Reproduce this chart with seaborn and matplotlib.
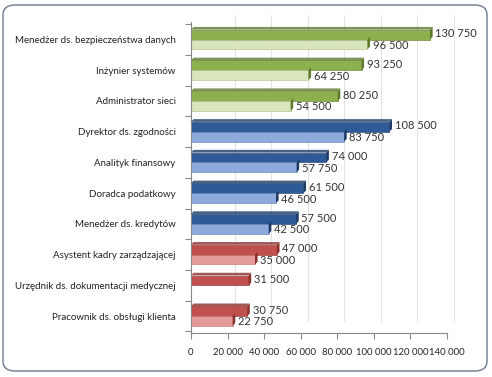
import numpy as np
import pandas as pd
import matplotlib
matplotlib.use("Agg")
import matplotlib.pyplot as plt
import matplotlib.transforms as mtransforms
from matplotlib.patches import FancyBboxPatch, Polygon
import seaborn as sns

categories = [
    "Menedżer ds. bezpieczeństwa danych",
    "Inżynier systemów",
    "Administrator sieci",
    "Dyrektor ds. zgodności",
    "Analityk finansowy",
    "Doradca podatkowy",
    "Menedżer ds. kredytów",
    "Asystent kadry zarządzającej",
    "Urzędnik ds. dokumentacji medycznej",
    "Pracownik ds. obsługi klienta",
]
high_values = [130750, 93250, 80250, 108500, 74000, 61500, 57500, 47000, 31500, 30750]
low_values = [96500, 64250, 54500, 83750, 57750, 46500, 42500, 35000, np.nan, 22750]
groups = ["g", "g", "g", "b", "b", "b", "b", "r", "r", "r"]
x_ticks = [0, 20000, 40000, 60000, 80000, 100000, 120000, 140000]
x_tick_labels = ["0", "20 000", "40 000", "60 000", "80 000", "100 000", "120 000", "140 000"]

dark_colors = {"g": "#8db04e", "b": "#2e5b97", "r": "#c0504d"}
light_colors = {"g": "#d8e5bd", "b": "#8eaadc", "r": "#e39a98"}
side_dark = {"g": "#5e7a2c", "b": "#1b3a66", "r": "#8a2f2c"}
side_light = {"g": "#a9bd85", "b": "#5f7fb5", "r": "#b86d6b"}

sns.set_theme(style="white")
plt.rcParams["font.family"] = ["Lato", "DejaVu Sans"]

df = pd.DataFrame({
    "cat": categories * 2,
    "val": high_values + low_values,
    "series": ["high"] * len(categories) + ["low"] * len(categories),
})

fig = plt.figure(figsize=(4.92, 3.77), dpi=100)
ax = fig.add_axes([191 / 492, 1 - 333 / 377, (447 - 191) / 492, (333 - 22) / 377])

sns.barplot(data=df, x="val", y="cat", hue="series", orient="h", width=0.64,
            dodge=True, ax=ax, legend=False, order=categories,
            hue_order=["high", "low"], errorbar=None, saturation=1)

ax.set_xlim(0, 140000)
ax.set_ylim(9.55, -0.57)

# recolor bars, add 3D side faces and labels
dx = 1400  # depth in data units
for cont, key in zip(ax.containers, ["high", "low"]):
    cmap = dark_colors if key == "high" else light_colors
    smap = side_dark if key == "high" else side_light
    for patch in cont.patches:
        y0 = patch.get_y()
        h = patch.get_height()
        w = patch.get_width()
        if not np.isfinite(w) or w <= 0:
            continue
        i = int(round(y0 + h / 2))
        g = groups[i]
        patch.set_facecolor(cmap[g])
        patch.set_edgecolor(side_dark[g] if key == "high" else smap[g])
        patch.set_linewidth(0.4)
        dy = h * 0.28
        side = Polygon([[w, y0], [w + dx, y0 - dy], [w + dx, y0 + h - dy], [w, y0 + h]],
                       closed=True, facecolor=side_dark[g], edgecolor="none", zorder=3)
        ax.add_patch(side)
        if key == "high":
            top = Polygon([[0, y0], [dx, y0 - dy], [w + dx, y0 - dy], [w, y0]],
                          closed=True, facecolor=side_dark[g], alpha=0.8,
                          edgecolor="none", zorder=3)
            ax.add_patch(top)
        label = f"{int(w):,}".replace(",", " ")
        yoff = -0.03 if key == "high" else 0.03
        ax.text(w + dx + 1500, y0 + h / 2 + yoff, label, va="center", ha="left",
                fontsize=8, color="#333333", zorder=5)

# gridlines (shifted for 3D back wall)
offset = mtransforms.ScaledTranslation(7 / 100, 7 / 100, fig.dpi_scale_trans)
for t in x_ticks[1:]:
    ax.plot([t, t], [9.4, -0.57], color="#e3e3e3", lw=0.8, zorder=0,
            transform=ax.transData + offset, clip_on=False)

ax.set_xticks(x_ticks)
ax.set_xticklabels(x_tick_labels)
ax.set_yticks(range(len(categories)))
ax.set_yticklabels(categories)
ax.set_yticks([i + 0.5 for i in range(-1, len(categories))], minor=True)
ax.tick_params(axis="y", which="major", length=0, pad=11, labelsize=7, labelcolor="#222222")
ax.tick_params(axis="y", which="minor", left=True, length=4, width=0.8, color="#888888")
ax.tick_params(axis="x", which="major", bottom=True, length=4, width=0.8, color="#888888",
               pad=7, labelsize=6.9, labelcolor="#222222")
ax.set_xlabel("")
ax.set_ylabel("")
for s in ["top", "right"]:
    ax.spines[s].set_visible(False)
for s in ["left", "bottom"]:
    ax.spines[s].set_color("#888888")
    ax.spines[s].set_linewidth(0.8)
ax.set_facecolor("none")

# rounded frame
frame = FancyBboxPatch((3 / 492, 6 / 377), 484 / 492, 366 / 377,
                       boxstyle="round,pad=0,rounding_size=0.025",
                       transform=fig.transFigure, facecolor="none",
                       edgecolor="#6d7b8d", linewidth=1.0, zorder=-1)
fig.patches.append(frame)

fig.savefig("out.png", dpi=100)
